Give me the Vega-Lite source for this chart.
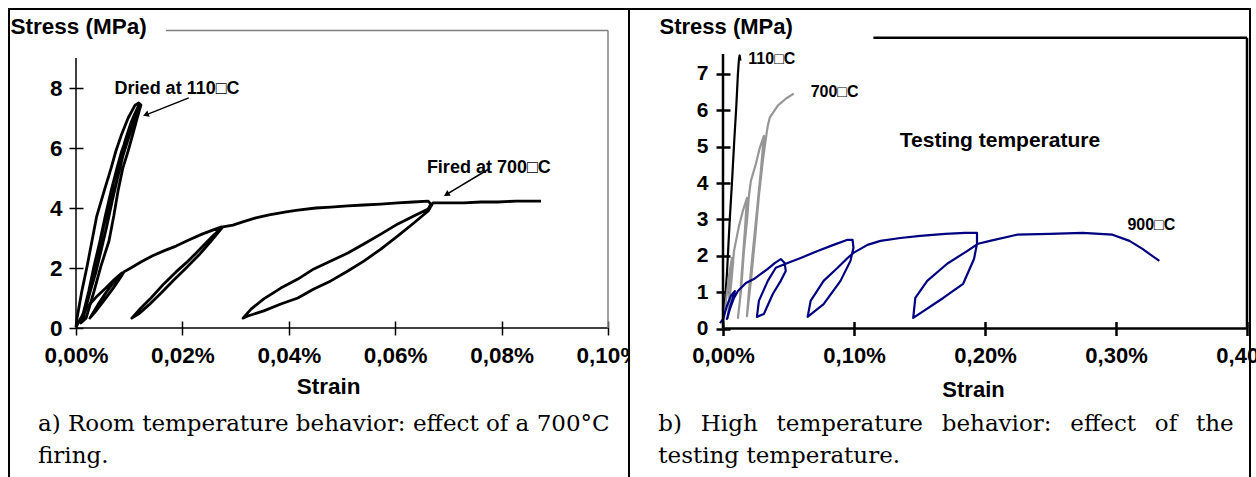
{
"$schema": "https://vega.github.io/schema/vega-lite/v6.json",
"padding": {"left": 8, "top": 8, "right": 0, "bottom": 0},
"spacing": 0,
"bounds": "flush",
"background": "white",
"config": {"view": {"stroke": "black", "strokeWidth": 2}, "axis": {"grid": false, "labelFlush": false, "labelOverlap": false}},
"datasets": {
"left": [
{"curve":"D","seq":1,"strain":0,"stress":0.03},{"curve":"D","seq":2,"strain":0.0002,"stress":0.33},{"curve":"D","seq":3,"strain":0.0011,"stress":1.23},{"curve":"D","seq":4,"strain":0.0021,"stress":2.07},{"curve":"D","seq":5,"strain":0.0030,"stress":2.9},{"curve":"D","seq":6,"strain":0.0039,"stress":3.73},{"curve":"D","seq":7,"strain":0.0053,"stress":4.57},{"curve":"D","seq":8,"strain":0.0066,"stress":5.33},{"curve":"D","seq":9,"strain":0.0075,"stress":5.9},{"curve":"D","seq":10,"strain":0.0086,"stress":6.47},{"curve":"D","seq":11,"strain":0.0098,"stress":7.0},{"curve":"D","seq":12,"strain":0.0111,"stress":7.43},{"curve":"D","seq":13,"strain":0.0118,"stress":7.5},
{"curve":"D","seq":14,"strain":0.0122,"stress":7.43},{"curve":"D","seq":15,"strain":0.0115,"stress":7.0},{"curve":"D","seq":16,"strain":0.0107,"stress":6.47},{"curve":"D","seq":17,"strain":0.0098,"stress":5.9},{"curve":"D","seq":18,"strain":0.0088,"stress":5.33},{"curve":"D","seq":19,"strain":0.0079,"stress":4.57},{"curve":"D","seq":20,"strain":0.0071,"stress":3.73},{"curve":"D","seq":21,"strain":0.0062,"stress":2.9},{"curve":"D","seq":22,"strain":0.0047,"stress":2.07},{"curve":"D","seq":23,"strain":0.0034,"stress":1.23},{"curve":"D","seq":24,"strain":0.0019,"stress":0.33},{"curve":"D","seq":25,"strain":0.0009,"stress":0.17},
{"curve":"D","seq":26,"strain":0.0017,"stress":0.73},{"curve":"D","seq":27,"strain":0.0024,"stress":1.23},{"curve":"D","seq":28,"strain":0.0034,"stress":2.07},{"curve":"D","seq":29,"strain":0.0045,"stress":2.9},{"curve":"D","seq":30,"strain":0.0055,"stress":3.73},{"curve":"D","seq":31,"strain":0.0066,"stress":4.57},{"curve":"D","seq":32,"strain":0.0077,"stress":5.33},{"curve":"D","seq":33,"strain":0.0086,"stress":5.9},{"curve":"D","seq":34,"strain":0.0098,"stress":6.47},{"curve":"D","seq":35,"strain":0.0107,"stress":7.0},{"curve":"D","seq":36,"strain":0.0118,"stress":7.43},
{"curve":"D","seq":37,"strain":0.0118,"stress":7.37},{"curve":"D","seq":38,"strain":0.0109,"stress":6.9},{"curve":"D","seq":39,"strain":0.0100,"stress":6.4},{"curve":"D","seq":40,"strain":0.0088,"stress":5.73},{"curve":"D","seq":41,"strain":0.0079,"stress":5.07},{"curve":"D","seq":42,"strain":0.0068,"stress":4.23},{"curve":"D","seq":43,"strain":0.0058,"stress":3.4},{"curve":"D","seq":44,"strain":0.0047,"stress":2.57},{"curve":"D","seq":45,"strain":0.0038,"stress":1.9},{"curve":"D","seq":46,"strain":0.0026,"stress":1.17},{"curve":"D","seq":47,"strain":0.0013,"stress":0.3},
{"curve":"D","seq":48,"strain":0.0021,"stress":0.9},{"curve":"D","seq":49,"strain":0.0030,"stress":1.63},{"curve":"D","seq":50,"strain":0.0041,"stress":2.5},{"curve":"D","seq":51,"strain":0.0051,"stress":3.3},{"curve":"D","seq":52,"strain":0.0062,"stress":4.13},{"curve":"D","seq":53,"strain":0.0071,"stress":4.9},{"curve":"D","seq":54,"strain":0.0083,"stress":5.57},{"curve":"D","seq":55,"strain":0.0092,"stress":6.23},{"curve":"D","seq":56,"strain":0.0103,"stress":6.83},{"curve":"D","seq":57,"strain":0.0115,"stress":7.3},{"curve":"D","seq":58,"strain":0.0120,"stress":7.47},
{"curve":"F","seq":1,"strain":0,"stress":0.03},{"curve":"F","seq":2,"strain":0.0009,"stress":0.33},{"curve":"F","seq":3,"strain":0.0021,"stress":0.7},{"curve":"F","seq":4,"strain":0.0038,"stress":1.03},{"curve":"F","seq":5,"strain":0.0056,"stress":1.33},{"curve":"F","seq":6,"strain":0.0073,"stress":1.63},{"curve":"F","seq":7,"strain":0.0086,"stress":1.83},{"curve":"F","seq":8,"strain":0.0071,"stress":1.53},{"curve":"F","seq":9,"strain":0.0056,"stress":1.17},{"curve":"F","seq":10,"strain":0.0041,"stress":0.77},{"curve":"F","seq":11,"strain":0.0026,"stress":0.33},{"curve":"F","seq":12,"strain":0.0039,"stress":0.6},{"curve":"F","seq":13,"strain":0.0055,"stress":0.97},{"curve":"F","seq":14,"strain":0.0070,"stress":1.33},{"curve":"F","seq":15,"strain":0.0083,"stress":1.67},{"curve":"F","seq":16,"strain":0.0090,"stress":1.87},{"curve":"F","seq":17,"strain":0.0103,"stress":2.0},{"curve":"F","seq":18,"strain":0.0122,"stress":2.2},{"curve":"F","seq":19,"strain":0.0143,"stress":2.4},{"curve":"F","seq":20,"strain":0.0165,"stress":2.57},{"curve":"F","seq":21,"strain":0.0188,"stress":2.73},{"curve":"F","seq":22,"strain":0.0212,"stress":2.93},{"curve":"F","seq":23,"strain":0.0237,"stress":3.13},{"curve":"F","seq":24,"strain":0.0258,"stress":3.27},{"curve":"F","seq":25,"strain":0.0274,"stress":3.37},
{"curve":"F","seq":26,"strain":0.0261,"stress":3.13},{"curve":"F","seq":27,"strain":0.0244,"stress":2.83},{"curve":"F","seq":28,"strain":0.0226,"stress":2.5},{"curve":"F","seq":29,"strain":0.0207,"stress":2.17},{"curve":"F","seq":30,"strain":0.0188,"stress":1.87},{"curve":"F","seq":31,"strain":0.0165,"stress":1.47},{"curve":"F","seq":32,"strain":0.0141,"stress":1.0},{"curve":"F","seq":33,"strain":0.0122,"stress":0.67},{"curve":"F","seq":34,"strain":0.0105,"stress":0.33},{"curve":"F","seq":35,"strain":0.0118,"stress":0.47},{"curve":"F","seq":36,"strain":0.0137,"stress":0.77},{"curve":"F","seq":37,"strain":0.0160,"stress":1.17},{"curve":"F","seq":38,"strain":0.0182,"stress":1.57},{"curve":"F","seq":39,"strain":0.0207,"stress":2.0},{"curve":"F","seq":40,"strain":0.0231,"stress":2.43},{"curve":"F","seq":41,"strain":0.0254,"stress":2.9},{"curve":"F","seq":42,"strain":0.0276,"stress":3.37},
{"curve":"F","seq":43,"strain":0.0295,"stress":3.43},{"curve":"F","seq":44,"strain":0.0312,"stress":3.53},{"curve":"F","seq":45,"strain":0.0338,"stress":3.67},{"curve":"F","seq":46,"strain":0.0363,"stress":3.77},{"curve":"F","seq":47,"strain":0.0395,"stress":3.87},{"curve":"F","seq":48,"strain":0.0417,"stress":3.93},{"curve":"F","seq":49,"strain":0.0451,"stress":4.0},{"curve":"F","seq":50,"strain":0.0479,"stress":4.03},{"curve":"F","seq":51,"strain":0.0511,"stress":4.07},{"curve":"F","seq":52,"strain":0.0541,"stress":4.1},{"curve":"F","seq":53,"strain":0.0573,"stress":4.13},{"curve":"F","seq":54,"strain":0.0605,"stress":4.17},{"curve":"F","seq":55,"strain":0.0634,"stress":4.2},{"curve":"F","seq":56,"strain":0.0662,"stress":4.23},{"curve":"F","seq":57,"strain":0.0667,"stress":4.13},
{"curve":"F","seq":58,"strain":0.0662,"stress":3.97},{"curve":"F","seq":59,"strain":0.0635,"stress":3.73},{"curve":"F","seq":60,"strain":0.0605,"stress":3.47},{"curve":"F","seq":61,"strain":0.0573,"stress":3.13},{"curve":"F","seq":62,"strain":0.0541,"stress":2.8},{"curve":"F","seq":63,"strain":0.0511,"stress":2.5},{"curve":"F","seq":64,"strain":0.0479,"stress":2.23},{"curve":"F","seq":65,"strain":0.0447,"stress":1.97},{"curve":"F","seq":66,"strain":0.0417,"stress":1.63},{"curve":"F","seq":67,"strain":0.0385,"stress":1.33},{"curve":"F","seq":68,"strain":0.0353,"stress":0.97},{"curve":"F","seq":69,"strain":0.0329,"stress":0.63},{"curve":"F","seq":70,"strain":0.0314,"stress":0.33},
{"curve":"F","seq":71,"strain":0.0323,"stress":0.4},{"curve":"F","seq":72,"strain":0.0353,"stress":0.57},{"curve":"F","seq":73,"strain":0.0385,"stress":0.8},{"curve":"F","seq":74,"strain":0.0417,"stress":1.0},{"curve":"F","seq":75,"strain":0.0447,"stress":1.3},{"curve":"F","seq":76,"strain":0.0479,"stress":1.57},{"curve":"F","seq":77,"strain":0.0511,"stress":1.9},{"curve":"F","seq":78,"strain":0.0541,"stress":2.23},{"curve":"F","seq":79,"strain":0.0573,"stress":2.63},{"curve":"F","seq":80,"strain":0.0605,"stress":3.07},{"curve":"F","seq":81,"strain":0.0635,"stress":3.5},{"curve":"F","seq":82,"strain":0.0662,"stress":3.9},{"curve":"F","seq":83,"strain":0.0671,"stress":4.17},
{"curve":"F","seq":84,"strain":0.0696,"stress":4.17},{"curve":"F","seq":85,"strain":0.0729,"stress":4.17},{"curve":"F","seq":86,"strain":0.0761,"stress":4.2},{"curve":"F","seq":87,"strain":0.0793,"stress":4.2},{"curve":"F","seq":88,"strain":0.0827,"stress":4.23},{"curve":"F","seq":89,"strain":0.0855,"stress":4.23},{"curve":"F","seq":90,"strain":0.0874,"stress":4.23}
],
"right": [
{"curve":"110","seq":1,"strain":0,"stress":0},{"curve":"110","seq":2,"strain":0.0030,"stress":1.5},{"curve":"110","seq":3,"strain":0.0051,"stress":2.96},{"curve":"110","seq":4,"strain":0.0068,"stress":3.98},{"curve":"110","seq":5,"strain":0.0086,"stress":5.17},{"curve":"110","seq":6,"strain":0.0101,"stress":6.08},{"curve":"110","seq":7,"strain":0.0114,"stress":7.01},{"curve":"110","seq":8,"strain":0.0122,"stress":7.42},{"curve":"110","seq":9,"strain":0.0127,"stress":7.51},{"curve":"110","seq":10,"strain":0.0133,"stress":7.37},
{"curve":"700","seq":1,"strain":0,"stress":0},{"curve":"700","seq":2,"strain":0.0023,"stress":0.76},{"curve":"700","seq":3,"strain":0.0046,"stress":1.45},{"curve":"700","seq":4,"strain":0.0068,"stress":1.94},{"curve":"700","seq":5,"strain":0.0053,"stress":1.31},{"curve":"700","seq":6,"strain":0.0046,"stress":0.76},{"curve":"700","seq":7,"strain":0.0038,"stress":0.29},{"curve":"700","seq":8,"strain":0.0053,"stress":0.9},{"curve":"700","seq":9,"strain":0.0068,"stress":1.45},{"curve":"700","seq":10,"strain":0.0084,"stress":2.13},{"curve":"700","seq":11,"strain":0.0122,"stress":2.82},{"curve":"700","seq":12,"strain":0.0152,"stress":3.24},{"curve":"700","seq":13,"strain":0.0183,"stress":3.59},{"curve":"700","seq":14,"strain":0.0167,"stress":2.68},{"curve":"700","seq":15,"strain":0.0144,"stress":1.58},{"curve":"700","seq":16,"strain":0.0129,"stress":0.76},{"curve":"700","seq":17,"strain":0.0114,"stress":0.29},{"curve":"700","seq":18,"strain":0.0137,"stress":1.03},{"curve":"700","seq":19,"strain":0.0160,"stress":2.13},{"curve":"700","seq":20,"strain":0.0183,"stress":2.96},{"curve":"700","seq":21,"strain":0.0198,"stress":3.65},{"curve":"700","seq":22,"strain":0.0213,"stress":4.06},{"curve":"700","seq":23,"strain":0.0251,"stress":4.53},{"curve":"700","seq":24,"strain":0.0281,"stress":4.97},{"curve":"700","seq":25,"strain":0.0312,"stress":5.3},{"curve":"700","seq":26,"strain":0.0289,"stress":4.34},{"curve":"700","seq":27,"strain":0.0259,"stress":3.24},{"curve":"700","seq":28,"strain":0.0228,"stress":2.13},{"curve":"700","seq":29,"strain":0.0198,"stress":1.03},{"curve":"700","seq":30,"strain":0.0183,"stress":0.34},{"curve":"700","seq":31,"strain":0.0213,"stress":1.31},{"curve":"700","seq":32,"strain":0.0243,"stress":2.41},{"curve":"700","seq":33,"strain":0.0274,"stress":3.65},{"curve":"700","seq":34,"strain":0.0304,"stress":4.61},{"curve":"700","seq":35,"strain":0.0327,"stress":5.22},{"curve":"700","seq":36,"strain":0.0342,"stress":5.58},{"curve":"700","seq":37,"strain":0.0357,"stress":5.8},{"curve":"700","seq":38,"strain":0.0418,"stress":6.13},{"curve":"700","seq":39,"strain":0.0479,"stress":6.32},{"curve":"700","seq":40,"strain":0.0540,"stress":6.46},
{"curve":"900","seq":1,"strain":-0.0023,"stress":0.15},{"curve":"900","seq":2,"strain":0,"stress":0.26},{"curve":"900","seq":3,"strain":0.0030,"stress":0.62},{"curve":"900","seq":4,"strain":0.0061,"stress":0.9},{"curve":"900","seq":5,"strain":0.0091,"stress":1.03},{"curve":"900","seq":6,"strain":0.0068,"stress":0.76},{"curve":"900","seq":7,"strain":0.0046,"stress":0.48},{"curve":"900","seq":8,"strain":0.0030,"stress":0.26},{"curve":"900","seq":9,"strain":0.0053,"stress":0.54},{"curve":"900","seq":10,"strain":0.0084,"stress":0.84},{"curve":"900","seq":11,"strain":0.0114,"stress":1.03},{"curve":"900","seq":12,"strain":0.0175,"stress":1.25},{"curve":"900","seq":13,"strain":0.0236,"stress":1.36},{"curve":"900","seq":14,"strain":0.0289,"stress":1.5},{"curve":"900","seq":15,"strain":0.0342,"stress":1.64},{"curve":"900","seq":16,"strain":0.0395,"stress":1.8},{"curve":"900","seq":17,"strain":0.0441,"stress":1.91},{"curve":"900","seq":18,"strain":0.0471,"stress":1.8},{"curve":"900","seq":19,"strain":0.0479,"stress":1.58},{"curve":"900","seq":20,"strain":0.0441,"stress":1.31},{"curve":"900","seq":21,"strain":0.0380,"stress":0.95},{"curve":"900","seq":22,"strain":0.0312,"stress":0.4},{"curve":"900","seq":23,"strain":0.0259,"stress":0.32},{"curve":"900","seq":24,"strain":0.0274,"stress":0.76},{"curve":"900","seq":25,"strain":0.0342,"stress":1.31},{"curve":"900","seq":26,"strain":0.0403,"stress":1.67},{"curve":"900","seq":27,"strain":0.0479,"stress":1.78},{"curve":"900","seq":28,"strain":0.0593,"stress":1.94},{"curve":"900","seq":29,"strain":0.0722,"stress":2.13},{"curve":"900","seq":30,"strain":0.0844,"stress":2.3},{"curve":"900","seq":31,"strain":0.0951,"stress":2.44},{"curve":"900","seq":32,"strain":0.0989,"stress":2.44},{"curve":"900","seq":33,"strain":0.0996,"stress":2.22},{"curve":"900","seq":34,"strain":0.0973,"stress":1.86},{"curve":"900","seq":35,"strain":0.0897,"stress":1.31},{"curve":"900","seq":36,"strain":0.0768,"stress":0.67},{"curve":"900","seq":37,"strain":0.0646,"stress":0.32},{"curve":"900","seq":38,"strain":0.0669,"stress":0.76},{"curve":"900","seq":39,"strain":0.0768,"stress":1.31},{"curve":"900","seq":40,"strain":0.0875,"stress":1.67},{"curve":"900","seq":41,"strain":0.0951,"stress":1.94},{"curve":"900","seq":42,"strain":0.0996,"stress":2.08},{"curve":"900","seq":43,"strain":0.1103,"stress":2.3},{"curve":"900","seq":44,"strain":0.1202,"stress":2.41},{"curve":"900","seq":45,"strain":0.1354,"stress":2.49},{"curve":"900","seq":46,"strain":0.1506,"stress":2.55},{"curve":"900","seq":47,"strain":0.1696,"stress":2.6},{"curve":"900","seq":48,"strain":0.1848,"stress":2.63},{"curve":"900","seq":49,"strain":0.1939,"stress":2.63},{"curve":"900","seq":50,"strain":0.1939,"stress":2.33},{"curve":"900","seq":51,"strain":0.1916,"stress":1.91},{"curve":"900","seq":52,"strain":0.1833,"stress":1.23},{"curve":"900","seq":53,"strain":0.1681,"stress":0.84},{"curve":"900","seq":54,"strain":0.1452,"stress":0.29},{"curve":"900","seq":55,"strain":0.1468,"stress":0.84},{"curve":"900","seq":56,"strain":0.1559,"stress":1.31},{"curve":"900","seq":57,"strain":0.1711,"stress":1.78},{"curve":"900","seq":58,"strain":0.1863,"stress":2.13},{"curve":"900","seq":59,"strain":0.1947,"stress":2.33},{"curve":"900","seq":60,"strain":0.2038,"stress":2.41},{"curve":"900","seq":61,"strain":0.2243,"stress":2.58},{"curve":"900","seq":62,"strain":0.2494,"stress":2.6},{"curve":"900","seq":63,"strain":0.2745,"stress":2.63},{"curve":"900","seq":64,"strain":0.2973,"stress":2.58},{"curve":"900","seq":65,"strain":0.3103,"stress":2.41},{"curve":"900","seq":66,"strain":0.3202,"stress":2.19},{"curve":"900","seq":67,"strain":0.3255,"stress":2.05},{"curve":"900","seq":68,"strain":0.3331,"stress":1.86}
]
},
"hconcat": [
{
"width": 620, "height": 475,
"view": {"fill": "white", "stroke": "black", "strokeWidth": 2},
"layer": [
{"data": {"name": "left"},
 "mark": {"type": "line", "color": "black", "strokeWidth": 2.8, "strokeJoin": "round"},
 "encoding": {
  "x": {"field": "strain", "type": "quantitative",
   "scale": {"domain": [0, 0.1], "range": [67, 599], "nice": false, "zero": false},
   "axis": {"orient": "bottom", "offset": -163, "values": [0, 0.02, 0.04, 0.06, 0.08, 0.1],
    "labelExpr": "replace(format(datum.value, '.2f'), '.', ',') + '%'",
    "domain": false, "tickColor": "black", "tickWidth": 1.5, "tickSize": 14,
    "labelFont": "Liberation Sans", "labelFontWeight": "bold", "labelFontSize": 22.5, "labelColor": "black", "labelPadding": 9,
    "title": "Strain", "titleFont": "Liberation Sans", "titleFontWeight": "bold", "titleFontSize": 22.5, "titleColor": "black",
    "titleX": 319, "titleY": 65, "titleAlign": "center", "titleBaseline": "middle", "labelFlush": false, "labelOverlap": false, "grid": false}},
  "y": {"field": "stress", "type": "quantitative",
   "scale": {"domain": [0, 9], "range": [319, 49], "nice": false, "zero": false},
   "axis": {"orient": "left", "offset": -74, "values": [0, 2, 4, 6, 8], "format": "d",
    "domain": false, "tickColor": "black", "tickWidth": 1.5, "tickSize": 14,
    "labelFont": "Liberation Sans", "labelFontWeight": "bold", "labelFontSize": 22.5, "labelColor": "black", "labelPadding": 7,
    "title": "Stress (MPa)", "titleFont": "Liberation Sans", "titleFontWeight": "bold", "titleFontSize": 22.5, "titleColor": "black",
    "titleAngle": 0, "titleX": -73, "titleY": 17, "titleAlign": "left", "titleBaseline": "middle", "labelFlush": false, "grid": false}},
  "detail": {"field": "curve"},
  "order": {"field": "seq"}
 }},
{"data": {"values": [{}]}, "mark": {"type": "rule", "color": "black", "strokeWidth": 1.5},
 "encoding": {"x": {"datum": 0}, "x2": {"datum": 0.1}, "y": {"datum": 0}}},
{"data": {"values": [{}]}, "mark": {"type": "rule", "color": "black", "strokeWidth": 1.5},
 "encoding": {"x": {"datum": 0}, "y": {"datum": 0}, "y2": {"datum": 9}}},
{"data": {"values": [{}]}, "mark": {"type": "rule", "color": "#7f7f7f", "strokeWidth": 1.5},
 "encoding": {"x": {"datum": 0.0169}, "x2": {"datum": 0.1}, "y": {"datum": 9.92}}},
{"data": {"values": [{}]}, "mark": {"type": "rule", "color": "#7f7f7f", "strokeWidth": 1.5},
 "encoding": {"x": {"datum": 0.1}, "y": {"datum": 0}, "y2": {"datum": 9.92}}},
{"data": {"values": [{}]}, "mark": {"type": "text", "text": "Dried at 110□C", "font": "Liberation Sans", "fontWeight": "bold", "fontSize": 18, "align": "center", "baseline": "middle", "color": "black"},
 "encoding": {"x": {"datum": 0.019}, "y": {"datum": 7.97}}},
{"data": {"values": [{}]}, "mark": {"type": "text", "text": "Fired at 700□C", "font": "Liberation Sans", "fontWeight": "bold", "fontSize": 18, "align": "center", "baseline": "middle", "color": "black"},
 "encoding": {"x": {"datum": 0.0776}, "y": {"datum": 5.33}}},
{"data": {"values": [{}]}, "mark": {"type": "rule", "color": "black", "strokeWidth": 1.5},
 "encoding": {"x": {"datum": 0.0212}, "y": {"datum": 7.67}, "x2": {"datum": 0.0134}, "y2": {"datum": 7.12}}},
{"data": {"values": [{}]}, "mark": {"type": "point", "shape": "triangle", "filled": true, "color": "black", "size": 45, "angle": 249, "opacity": 1},
 "encoding": {"x": {"datum": 0.0133}, "y": {"datum": 7.12}}},
{"data": {"values": [{}]}, "mark": {"type": "rule", "color": "black", "strokeWidth": 1.5},
 "encoding": {"x": {"datum": 0.0776}, "y": {"datum": 5.3}, "x2": {"datum": 0.0698}, "y2": {"datum": 4.47}}},
{"data": {"values": [{}]}, "mark": {"type": "point", "shape": "triangle", "filled": true, "color": "black", "size": 45, "angle": 239, "opacity": 1},
 "encoding": {"x": {"datum": 0.0698}, "y": {"datum": 4.47}}},
{"data": {"values": [{}]}, "mark": {"type": "text", "text": "a) Room temperature behavior: effect of a 700°C", "font": "DejaVu Serif", "fontSize": 23, "align": "left", "baseline": "alphabetic", "color": "black"},
 "encoding": {"x": {"datum": -0.00714}, "y": {"datum": -3.433}}},
{"data": {"values": [{}]}, "mark": {"type": "text", "text": "firing.", "font": "DejaVu Serif", "fontSize": 23, "align": "left", "baseline": "alphabetic", "color": "black"},
 "encoding": {"x": {"datum": -0.00714}, "y": {"datum": -4.5}}}
]
},
{
"width": 621, "height": 475,
"view": {"fill": "white", "stroke": "black", "strokeWidth": 2},
"layer": [
{"data": {"name": "right"},
 "mark": {"type": "line", "strokeWidth": 2.2, "strokeJoin": "round"},
 "encoding": {
  "x": {"field": "strain", "type": "quantitative",
   "scale": {"domain": [0, 0.4], "range": [94, 618], "nice": false, "zero": false},
   "axis": {"orient": "bottom", "offset": -162.5, "values": [0, 0.1, 0.2, 0.3, 0.4],
    "labelExpr": "replace(format(datum.value, '.2f'), '.', ',') + '%'",
    "domain": false, "tickColor": "black", "tickWidth": 2.5, "tickSize": 14,
    "labelFont": "Liberation Sans", "labelFontWeight": "bold", "labelFontSize": 22, "labelColor": "black", "labelPadding": 10,
    "title": "Strain", "titleFont": "Liberation Sans", "titleFontWeight": "bold", "titleFontSize": 22, "titleColor": "black",
    "titleX": 344, "titleY": 68, "titleAlign": "center", "titleBaseline": "middle", "labelFlush": false, "labelOverlap": false, "grid": false}},
  "y": {"field": "stress", "type": "quantitative",
   "scale": {"domain": [0, 7.55], "range": [319.5, 45], "nice": false, "zero": false},
   "axis": {"orient": "left", "offset": -101, "values": [0, 1, 2, 3, 4, 5, 6, 7], "format": "d",
    "domain": false, "tickColor": "black", "tickWidth": 2.5, "tickSize": 14,
    "labelFont": "Liberation Sans", "labelFontWeight": "bold", "labelFontSize": 21, "labelColor": "black", "labelPadding": 8,
    "title": "Stress (MPa)", "titleFont": "Liberation Sans", "titleFontWeight": "bold", "titleFontSize": 22, "titleColor": "black",
    "titleAngle": 0, "titleX": -71, "titleY": 17, "titleAlign": "left", "titleBaseline": "middle", "labelFlush": false, "grid": false}},
  "color": {"field": "curve", "type": "nominal", "scale": {"domain": ["110", "700", "900"], "range": ["#000000", "#969696", "#000080"]}, "legend": null},
  "order": {"field": "seq"}
 }},
{"data": {"values": [{}]}, "mark": {"type": "rule", "color": "black", "strokeWidth": 2.5},
 "encoding": {"x": {"datum": 0}, "x2": {"datum": 0.4}, "y": {"datum": 0}}},
{"data": {"values": [{}]}, "mark": {"type": "rule", "color": "black", "strokeWidth": 2.5},
 "encoding": {"x": {"datum": 0}, "y": {"datum": 0}, "y2": {"datum": 7.55}}},
{"data": {"values": [{}]}, "mark": {"type": "rule", "color": "black", "strokeWidth": 2.5},
 "encoding": {"x": {"datum": 0.1148}, "x2": {"datum": 0.4}, "y": {"datum": 8.0}}},
{"data": {"values": [{}]}, "mark": {"type": "rule", "color": "black", "strokeWidth": 2.5},
 "encoding": {"x": {"datum": 0.4}, "y": {"datum": 0}, "y2": {"datum": 8.0}}},
{"data": {"values": [{}]}, "mark": {"type": "text", "text": "110□C", "font": "Liberation Sans", "fontWeight": "bold", "fontSize": 16, "align": "center", "baseline": "middle", "color": "black"},
 "encoding": {"x": {"datum": 0.0373}, "y": {"datum": 7.4}}},
{"data": {"values": [{}]}, "mark": {"type": "text", "text": "700□C", "font": "Liberation Sans", "fontWeight": "bold", "fontSize": 16, "align": "center", "baseline": "middle", "color": "black"},
 "encoding": {"x": {"datum": 0.0852}, "y": {"datum": 6.51}}},
{"data": {"values": [{}]}, "mark": {"type": "text", "text": "900□C", "font": "Liberation Sans", "fontWeight": "bold", "fontSize": 16, "align": "center", "baseline": "middle", "color": "black"},
 "encoding": {"x": {"datum": 0.327}, "y": {"datum": 2.85}}},
{"data": {"values": [{}]}, "mark": {"type": "text", "text": "Testing temperature", "font": "Liberation Sans", "fontWeight": "bold", "fontSize": 21, "align": "center", "baseline": "middle", "color": "black"},
 "encoding": {"x": {"datum": 0.2114}, "y": {"datum": 5.17}}},
{"data": {"values": [{}]}, "mark": {"type": "text", "text": "b)\u2002\u00a0High\u2002\u00a0temperature\u2002\u00a0behavior:\u2002\u00a0effect\u2002\u00a0of\u2002\u00a0the", "font": "DejaVu Serif", "fontSize": 23, "align": "left", "baseline": "alphabetic", "color": "black"},
 "encoding": {"x": {"datum": -0.0494}, "y": {"datum": -2.824}}},
{"data": {"values": [{}]}, "mark": {"type": "text", "text": "testing temperature.", "font": "DejaVu Serif", "fontSize": 23, "align": "left", "baseline": "alphabetic", "color": "black"},
 "encoding": {"x": {"datum": -0.0494}, "y": {"datum": -3.705}}}
]
}
]
}
